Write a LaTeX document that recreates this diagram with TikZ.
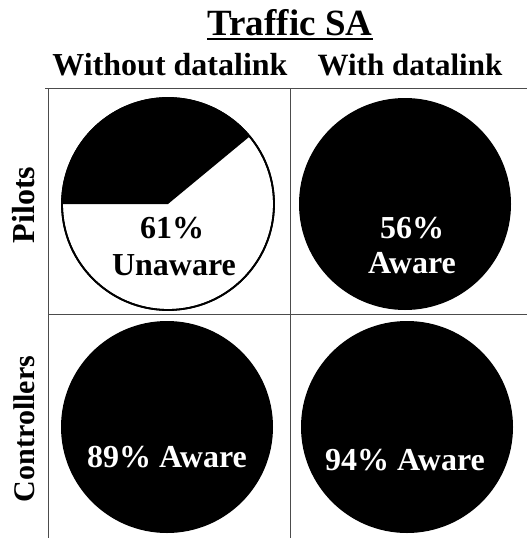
\documentclass[tikz,border=0pt]{standalone}
\usepackage{fontspec}
\setmainfont{Liberation Serif}
\usetikzlibrary{positioning}
\tikzstyle{chart} = [x = 1pt, y = -1pt]
\tikzstyle{gridLine} = [color=black!70, line width=.9pt]
\tikzstyle{pieOutline} = [draw=black, line width=1.8pt]
\tikzstyle{bigText} = [font=\fontsize{32}{34}\selectfont\bfseries, inner sep=0pt, anchor=base]
\tikzstyle{pieText} = [bigText, text=white]
\newcommand{\pieRadius}{106}
\newcommand{\blackPie}[2]{\fill [black] (#1, #2) circle [radius = \pieRadius];}

\begin{document}
\begin{tikzpicture}[chart]
        \useasboundingbox (0,0) rectangle (527,538);

        % headings
        \node [bigText, font=\fontsize{37}{40}\selectfont\bfseries] (titleText) at (290, 35) {Traffic SA};
        \draw [line width=2pt] ([yshift=-4pt]titleText.base west) -- ([yshift=-4pt]titleText.base east);
        \node [bigText] (headWithout) at (170, 75) {Without datalink};
        \node [bigText, font=\fontsize{31}{34}\selectfont\bfseries] (headWith) at (410, 75) {With datalink};
        \node [bigText] (labelPilots) [rotate=90] at (34, 205) {Pilots};
        \node [bigText, font=\fontsize{30}{34}\selectfont\bfseries] (labelControllers) [rotate=90] at (34, 429) {Controllers};

        % grid
        \draw [gridLine] (45, 88) -- (527, 88);
        \draw [gridLine] (48, 88) -- (48, 538);
        \draw [gridLine] (290, 88) -- (290, 538);
        \draw [gridLine] (48, 314) -- (527, 314);

        % pilots without datalink
        \filldraw [pieOutline, fill=white] (168, 204) circle [radius = \pieRadius];
        \fill [black] (168, 204) -- ++(180:\pieRadius) arc [start angle=180, end angle=320.4, radius=\pieRadius] -- cycle;
        \draw [pieOutline] (168, 204) circle [radius = \pieRadius];
        \node [bigText] (pilotsWithoutPct) at (172, 238) {61\%};
        \node [bigText] (pilotsWithoutLabel) at (174, 275) {Unaware};

        % pilots with datalink
        \blackPie{405}{204}
        \node [pieText] (pilotsWithPct) at (412, 238) {56\%};
        \node [pieText] (pilotsWithLabel) at (412, 273) {Aware};

        % controllers
        \blackPie{167}{427}
        \node [pieText] (controllersWithout) at (167, 467) {89\% Aware};
        \blackPie{407}{427}
        \node [pieText] (controllersWith) at (405, 470) {94\% Aware};
      \end{tikzpicture}
\end{document}
